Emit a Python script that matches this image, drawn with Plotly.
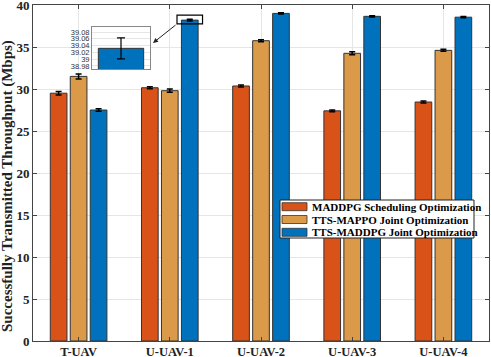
import plotly.graph_objects as go

categories = ["T-UAV", "U-UAV-1", "U-UAV-2", "U-UAV-3", "U-UAV-4"]
maddpg_sched = [29.5, 30.15, 30.36, 27.4, 28.45]
maddpg_sched_err = [0.2, 0.12, 0.12, 0.1, 0.12]
mappo_joint = [31.5, 29.8, 35.75, 34.25, 34.6]
mappo_joint_err = [0.3, 0.2, 0.12, 0.18, 0.12]
tts_maddpg = [27.5, 38.2, 39.0, 38.65, 38.55]
tts_maddpg_err = [0.15, 0.1, 0.08, 0.08, 0.08]
names = ["MADDPG Scheduling Optimization", "TTS-MAPPO Joint Optimization",
         "TTS-MADDPG Joint Optimization"]
colors = ["#D95319", "#DB9A4A", "#0072BD"]
yticks = [0, 5, 10, 15, 20, 25, 30, 35, 40]

# zoomed inset of U-UAV-1 TTS-MADDPG
inset_val = [39.032]
inset_err = [0.031]
inset_ticks = [38.98, 39.0, 39.02, 39.04, 39.06, 39.08]

font = "Liberation Serif"
xs = list(range(1, len(categories) + 1))

# plot area in pixels (for placing legend / labels)
L, R, T, B = 33, 489, 5, 341
def px(x):
    return (x - L) / (R - L)
def py(y):
    return (B - y) / (B - T)
def dx(x):
    return 0.5 + 5 * px(x)
def dy(y):
    return 40 * py(y)

fig = go.Figure()
for vals, errs, name, col in zip([maddpg_sched, mappo_joint, tts_maddpg],
                                 [maddpg_sched_err, mappo_joint_err, tts_maddpg_err],
                                 names, colors):
    fig.add_trace(go.Bar(
        x=xs, y=vals, name=name, showlegend=False,
        marker=dict(color=col, line=dict(color="#333333", width=1)),
        error_y=dict(type="data", array=errs, color="black", thickness=1.5, width=3),
    ))

fig.add_trace(go.Bar(
    x=[0], y=inset_val, xaxis="x2", yaxis="y2", showlegend=False,
    marker=dict(color=colors[2], line=dict(color="#333333", width=1)),
    error_y=dict(type="data", array=inset_err, color="black", thickness=1.2, width=4),
    width=0.86,
))

# highlight box around the zoomed bar and arrow to inset
bx = 2 + 0.219
fig.add_shape(type="rect", xref="x", yref="y",
              x0=bx - 0.14, x1=bx + 0.14,
              y0=tts_maddpg[1] - 0.45, y1=tts_maddpg[1] + 0.6,
              line=dict(color="black", width=1.2))
fig.add_annotation(x=dx(153), y=dy(43), xref="x", yref="y",
                   ax=bx - 0.14, ay=tts_maddpg[1] - 0.45, axref="x", ayref="y",
                   showarrow=True, arrowhead=2, arrowsize=1, arrowwidth=1,
                   arrowcolor="#222222", text="")

fig.add_annotation(text="<b>Successfully Transmitted Throughput (Mbps)</b>",
                   xref="paper", yref="paper", x=px(7), y=py(186),
                   textangle=-90, showarrow=False, xanchor="center",
                   font=dict(family=font, size=15, color="#222222"))

# legend drawn by hand
fig.add_shape(type="rect", xref="paper", yref="paper",
              x0=px(280), x1=px(474), y0=py(238), y1=py(200),
              line=dict(color="#222222", width=1), fillcolor="white")
for i, (name, col) in enumerate(zip(names, colors)):
    cy = 206.7 + 12.8 * i
    fig.add_shape(type="rect", xref="paper", yref="paper",
                  x0=px(282), x1=px(307), y0=py(cy + 4), y1=py(cy - 4),
                  line=dict(color="#333333", width=0.8), fillcolor=col)
    fig.add_annotation(text="<b>%s</b>" % name, xref="paper", yref="paper",
                       x=px(310), y=py(cy), xanchor="left", yanchor="middle",
                       showarrow=False,
                       font=dict(family=font, size=11, color="black"))

fig.update_layout(
    width=491, height=357,
    margin=dict(l=L, r=491 - R, t=T, b=357 - B),
    paper_bgcolor="white", plot_bgcolor="white",
    barmode="group", bargap=0.343, bargroupgap=0.165,
    font=dict(family=font, size=12, color="#222222"),
    showlegend=False,
    xaxis=dict(
        tickmode="array", tickvals=xs, ticktext=["<b>%s</b>" % c for c in categories],
        range=[0.5, 5.5], showgrid=True, gridcolor="#E6E6E6",
        showline=True, linecolor="#444444", mirror="ticks",
        ticks="inside", ticklen=4, tickcolor="#444444", automargin=False,
        tickfont=dict(family=font, size=12.5), ticklabeloverflow="allow",
        ticklabelstandoff=-1,
    ),
    yaxis=dict(
        range=[0, 40], tickmode="array", tickvals=yticks,
        ticktext=["<b>%d</b>" % v for v in yticks],
        showgrid=True, gridcolor="#E6E6E6", zeroline=False,
        showline=True, linecolor="#444444", mirror="ticks",
        ticks="inside", ticklen=4, tickcolor="#444444", automargin=False,
        tickfont=dict(family=font, size=13), ticklabeloverflow="allow",
    ),
    xaxis2=dict(
        domain=[px(92), px(150)], anchor="y2", range=[-0.55, 0.55],
        showticklabels=False, showgrid=False, showline=True,
        linecolor="#888888", mirror=True, ticks="",
    ),
    yaxis2=dict(
        domain=[py(69), py(27)], anchor="x2", range=[38.971, 39.095],
        tickmode="array", tickvals=inset_ticks, ticktext=["%g" % t for t in inset_ticks],
        showgrid=True, gridcolor="#E6E6E6", zeroline=False,
        showline=True, linecolor="#888888", mirror=True, ticks="",
        tickfont=dict(family="Liberation Sans", size=7.5, color="#333333"),
    ),
)

fig.write_html("out.html", config={"displayModeBar": False},
               post_script="document.body.style.margin='0px';")
